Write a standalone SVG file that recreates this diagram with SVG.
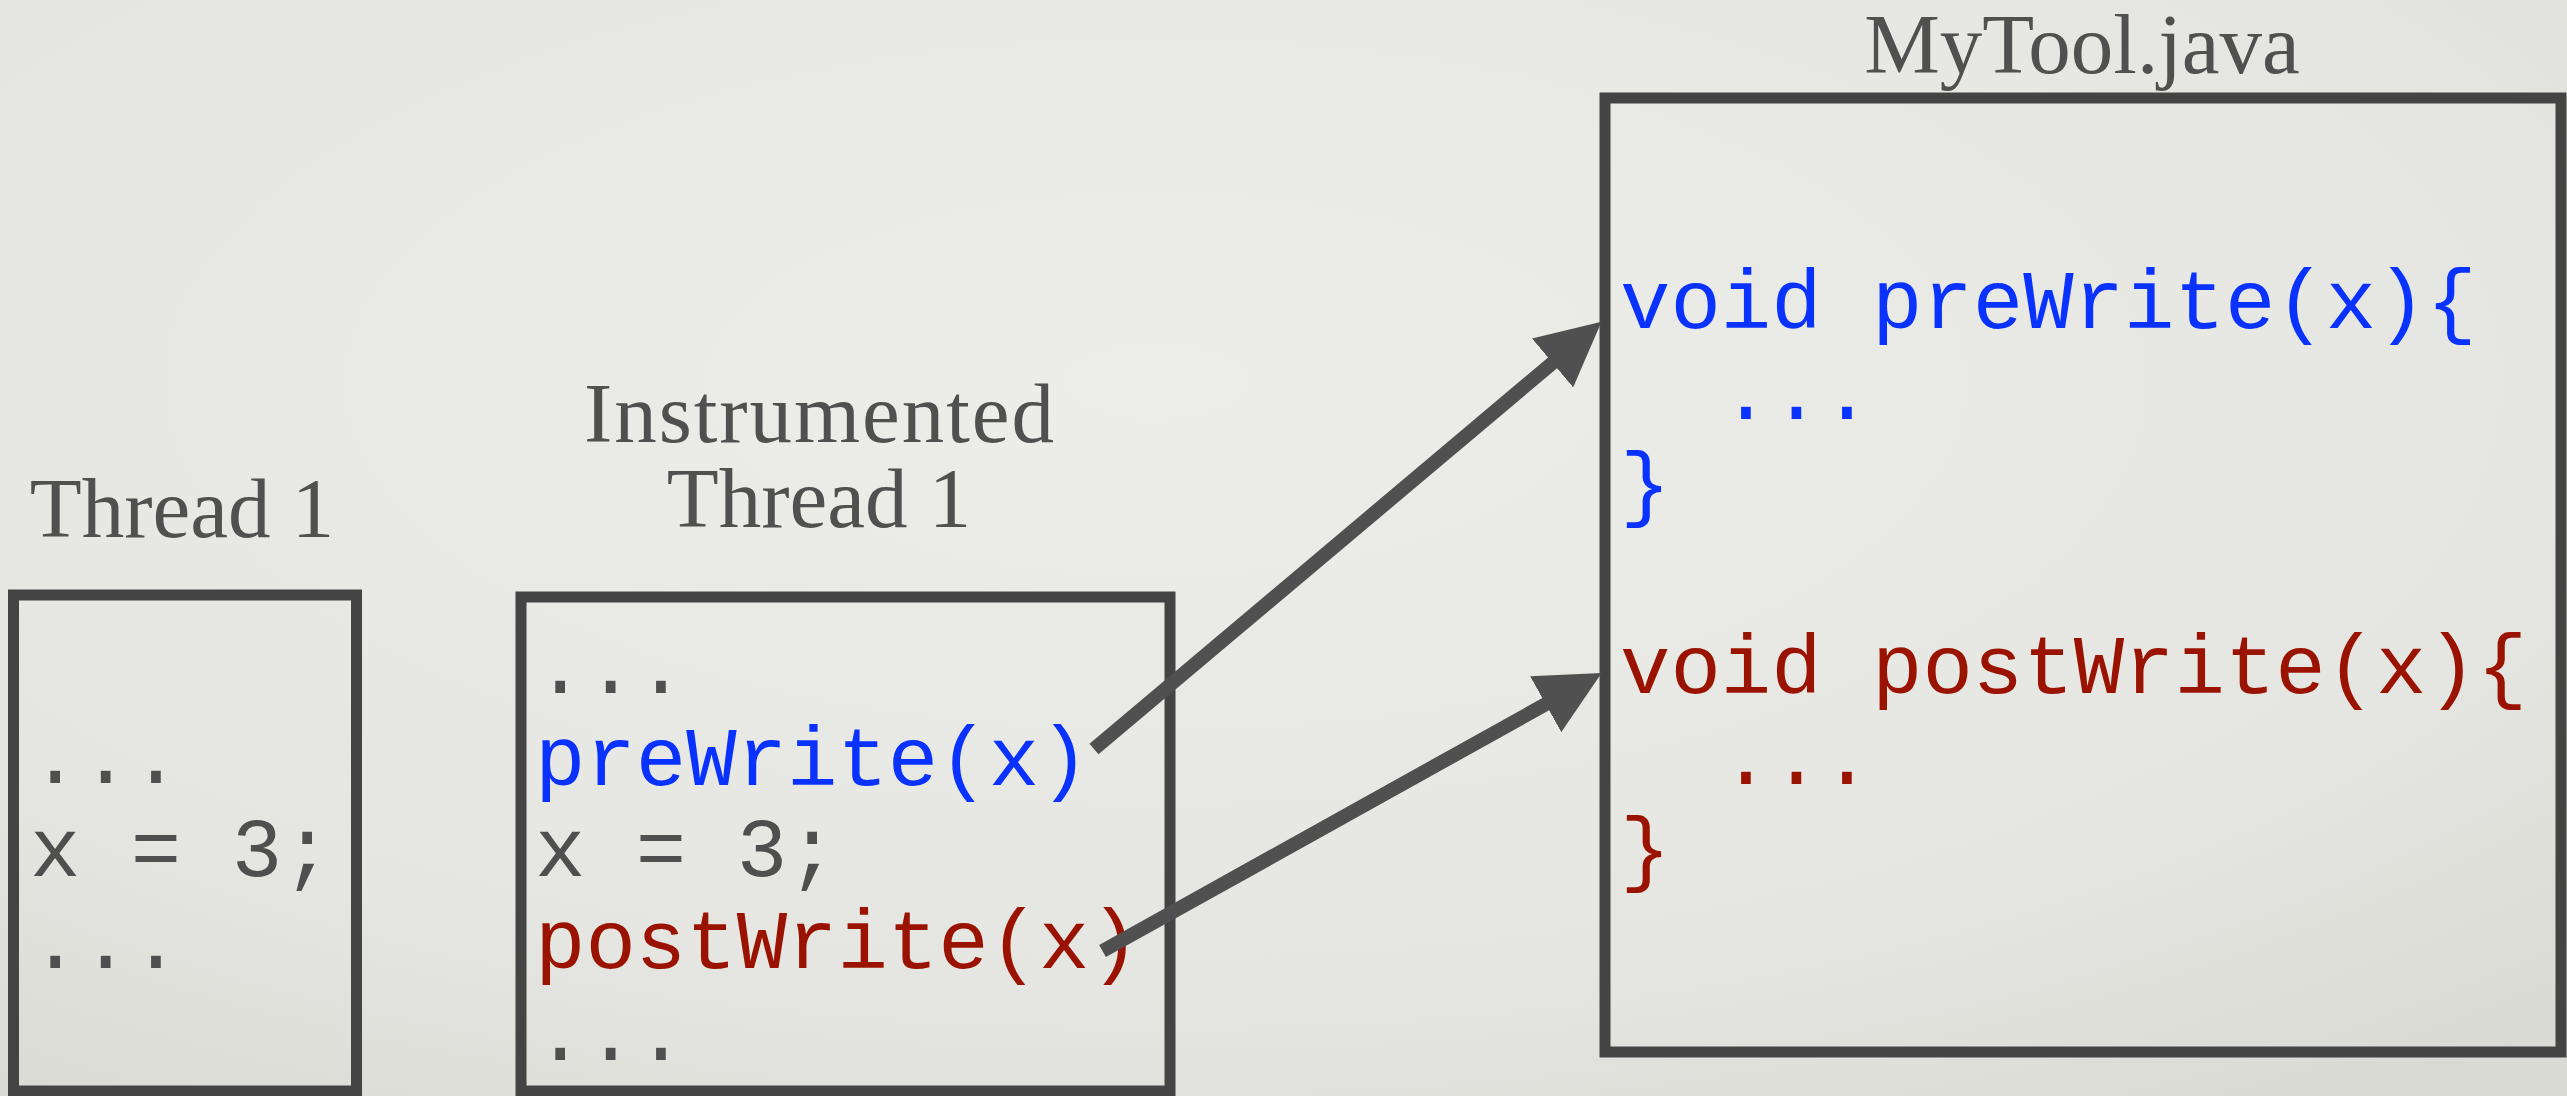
<svg xmlns="http://www.w3.org/2000/svg" width="2567" height="1096" viewBox="0 0 2567 1096">
<defs>
<radialGradient id="bg" cx="0.45" cy="0.35" r="0.8">
<stop offset="0" stop-color="#ededea"/>
<stop offset="0.7" stop-color="#e5e6e1"/>
<stop offset="1" stop-color="#d9dad3"/>
</radialGradient>
<marker id="head" markerUnits="userSpaceOnUse" markerWidth="64" markerHeight="64" refX="2" refY="31" orient="auto" viewBox="0 0 62 62">
<path d="M0,0 L62,31 L0,62 Z" fill="#505050"/>
</marker>
<style>
.box{fill:none;stroke:#444444;stroke-width:11}
.title{font-family:"Liberation Serif","Times New Roman",serif;font-size:85px;fill:#505050;text-anchor:middle}
.code{font-family:"Liberation Mono","Courier New",monospace;font-size:84px;white-space:pre}
.gray{fill:#4f4f4f}
.blue{fill:#0a32ff}
.red{fill:#9a1200}
.conn{stroke:#505050;stroke-width:14;fill:none;marker-end:url(#head)}
</style>
</defs>
<rect x="0" y="0" width="2567" height="1096" fill="url(#bg)"/>
<g id="thread1">
<text class="title" x="182" y="537">Thread 1</text>
<rect class="box" x="13.5" y="595" width="343" height="496"/>
<text class="code gray" x="30" y="783">...</text>
<text class="code gray" x="30" y="876">x = 3;</text>
<text class="code gray" x="30" y="968">...</text>
</g>
<g id="instrumented">
<text class="title"><tspan x="819" y="442" textLength="470">Instrumented</tspan><tspan x="819" y="527">Thread 1</tspan></text>
<rect class="box" x="521" y="597" width="649" height="494"/>
<text class="code gray" x="535" y="693">...</text>
<text class="code blue" x="535" y="785">preWrite(x)</text>
<text class="code gray" x="535" y="876">x = 3;</text>
<text class="code red" x="535" y="968">postWrite(x)</text>
<text class="code gray" x="535" y="1060">...</text>
</g>
<g id="mytool">
<text class="title" x="2082" y="73">MyTool.java</text>
<rect class="box" x="1605" y="98" width="956" height="954"/>
<text class="code blue" x="1620" y="328">void preWrite(x){</text>
<text class="code blue" x="1620" y="419">  ...</text>
<text class="code blue" x="1620" y="511">}</text>
<text class="code red" x="1620" y="693">void postWrite(x){</text>
<text class="code red" x="1620" y="784">  ...</text>
<text class="code red" x="1620" y="876">}</text>
</g>
<g id="connectors">
<line class="conn" x1="1094" y1="749" x2="1554.1" y2="361.6"/>
<line class="conn" x1="1102.5" y1="951" x2="1547.5" y2="703.2"/>
</g>
</svg>
